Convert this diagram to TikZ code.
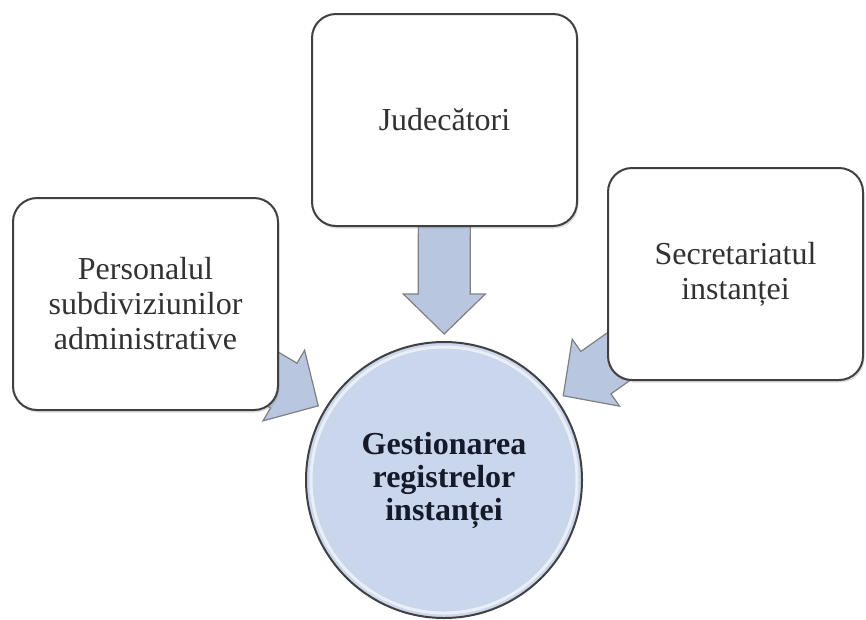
\documentclass[tikz,border=0pt]{standalone}
\usepackage{fontspec}
\setmainfont{Liberation Serif}
\usetikzlibrary{calc}
\usetikzlibrary{backgrounds}
\usetikzlibrary{shadows}

\definecolor{ringblue}{RGB}{201,214,236}
\definecolor{arrowblue}{RGB}{184,198,224}
\definecolor{edgegray}{RGB}{64,64,64}
\definecolor{inktext}{RGB}{50,50,50}
\definecolor{inkbold}{RGB}{20,26,42}

\begin{document}
\begin{tikzpicture}[x=1pt, y=-1pt,
    role/.style={rectangle, rounded corners=24pt, draw=edgegray, line width=2pt, fill=white,
      minimum width=265pt, minimum height=212pt, align=center, text=inktext,
      font=\fontsize{32}{35}\selectfont,
      drop shadow={opacity=0.25, shadow xshift=1.5pt, shadow yshift=-2.5pt}},
    hub/.style={circle, draw=edgegray, line width=2pt, fill=ringblue, minimum size=276pt,
      inner sep=0pt, align=center, text=inkbold, font=\fontsize{32}{33}\selectfont\bfseries},
    flow/.style={draw=gray, line width=1.2pt, fill=arrowblue, line join=miter}]
  \useasboundingbox (0,0) rectangle (866,619);

  \node[role] (jud) at (444.5,120) {Judecători};
  \node[role] (pers) at (145.5,304) {Personalul\\subdiviziunilor\\administrative};
  \node[role, minimum width=255pt] (sec) at (735.5,274) {Secretariatul\\instanței};
  \node[hub] (reg) at (444,480) {Gestionarea\\registrelor\\instanței};
  \draw[white, line width=3pt, opacity=0.6] (reg.center) circle (133);

  \begin{pgfonlayer}{background}
    \foreach \src in {jud, pers, sec} {
      \coordinate (tip) at ($(reg.center)!146pt!(\src.center)$);
      \coordinate (neck) at ($(tip)!40pt!(\src.center)$);
      \draw[flow] ($(\src.center)!26pt!90:(tip)$) -- ($(neck)!26pt!90:(tip)$)
        -- ($(neck)!41pt!90:(tip)$) -- (tip) -- ($(neck)!41pt!-90:(tip)$)
        -- ($(neck)!26pt!-90:(tip)$) -- ($(\src.center)!26pt!-90:(tip)$) -- cycle;
    }
  \end{pgfonlayer}
\end{tikzpicture}
\end{document}
